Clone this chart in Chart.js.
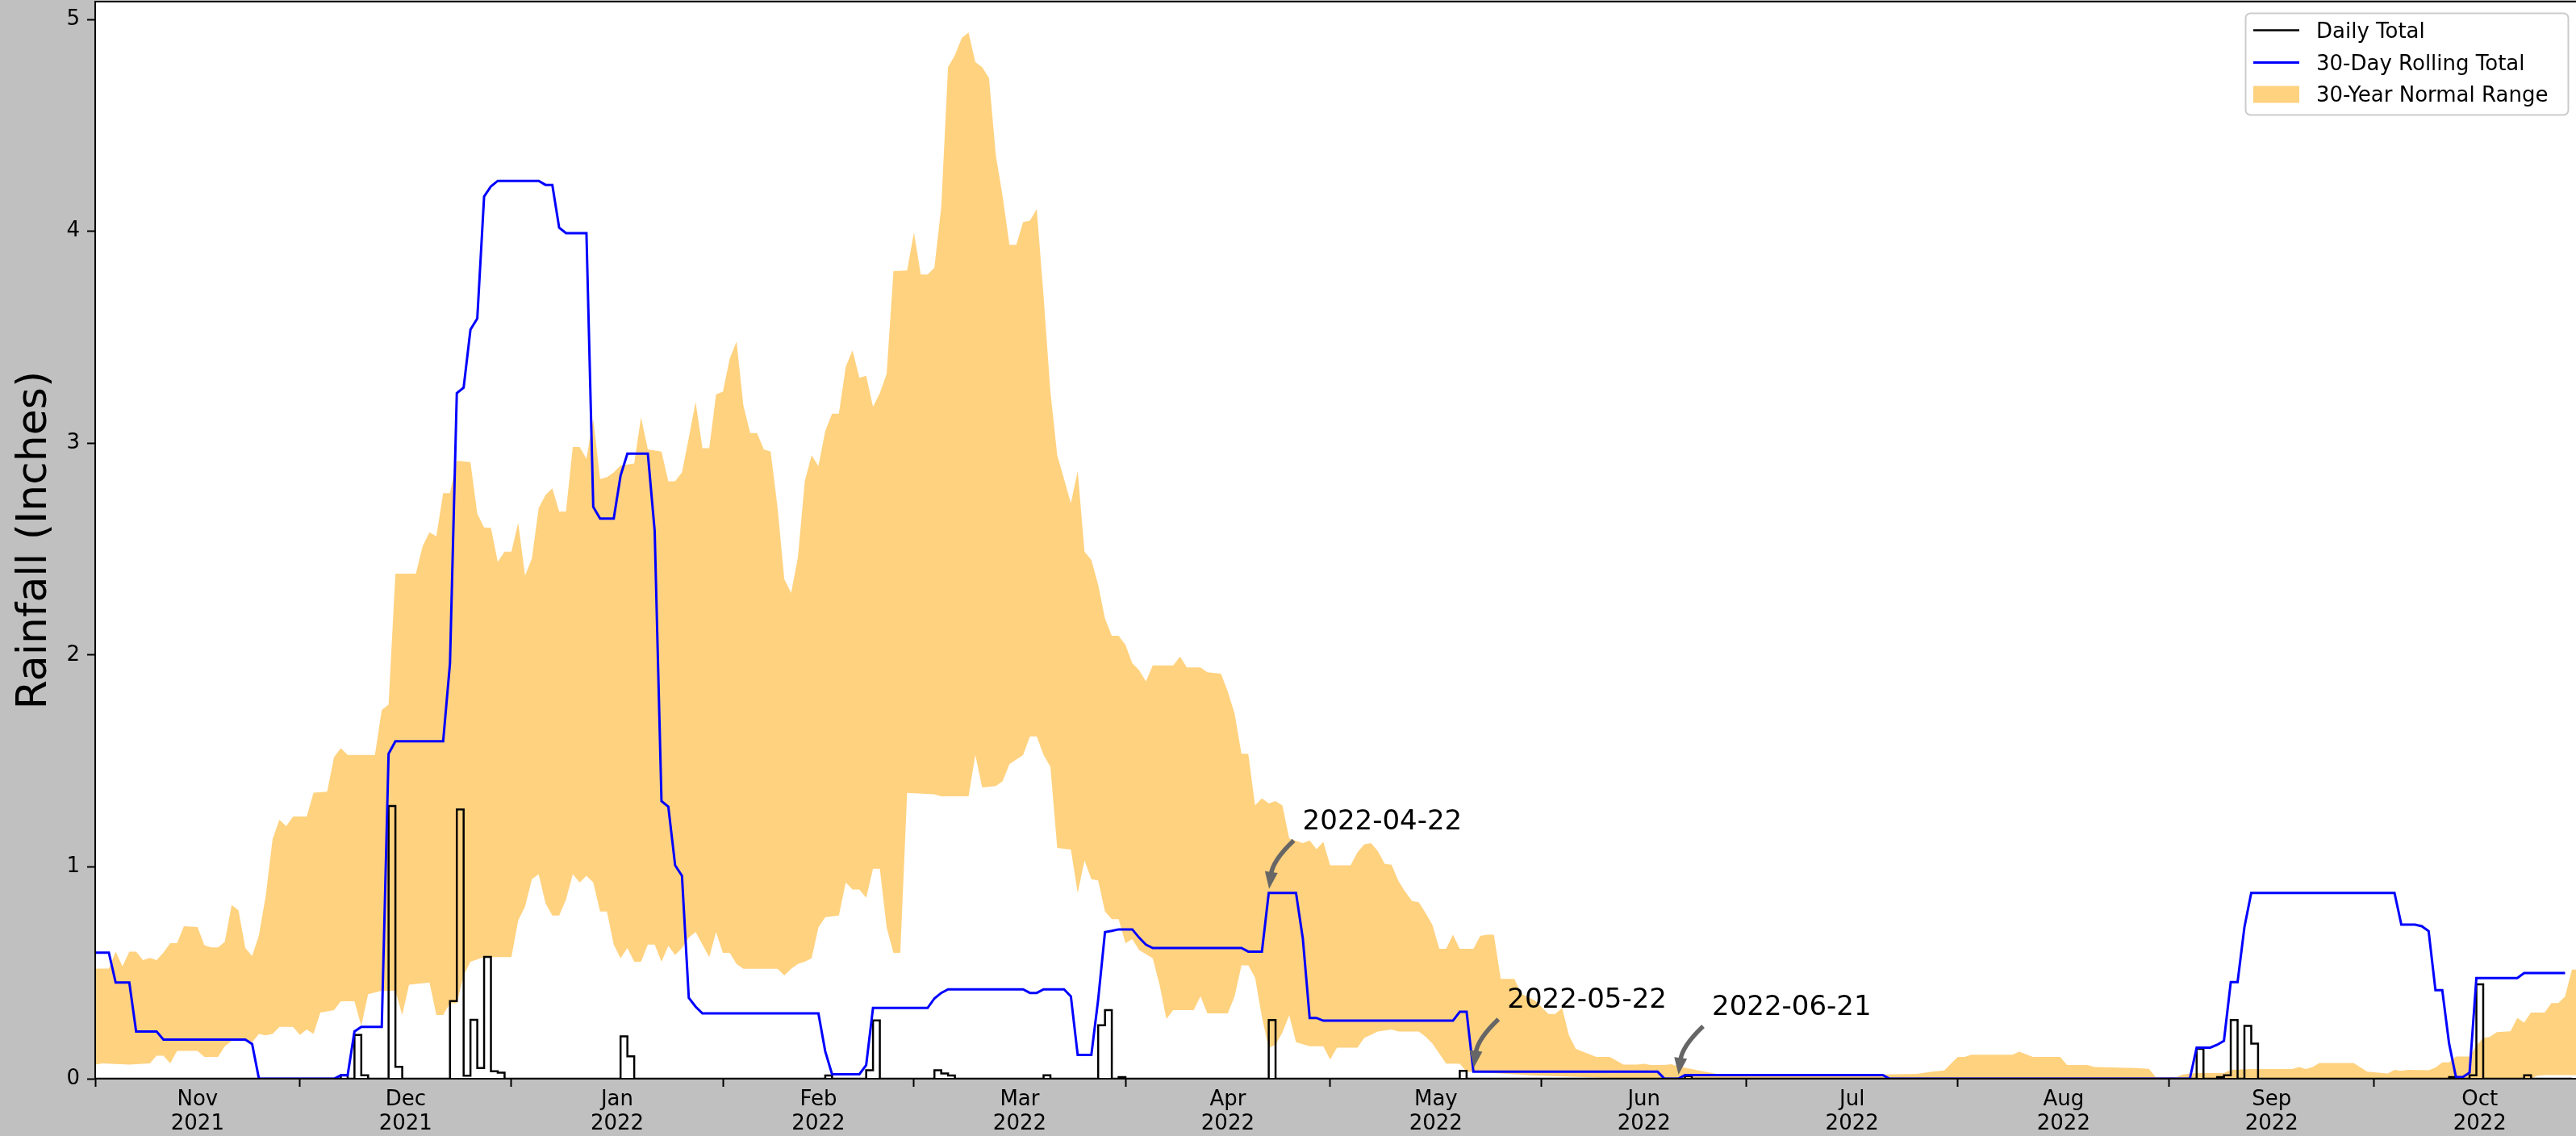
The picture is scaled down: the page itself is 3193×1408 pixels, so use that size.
<!DOCTYPE html>
<html>
<head>
<meta charset="utf-8">
<script src="https://cdn.jsdelivr.net/npm/chart.js@4/dist/chart.umd.min.js"></script>
<style>
html,body{margin:0;padding:0;background:#c0c0c0;}
#wrap{width:3193px;height:1408px;position:relative;}
</style>
</head>
<body>
<div id="wrap"><canvas id="c"></canvas></div>
<script>
// ---- x axis: days since 2021-11-01 ----
const monthStartDays = [0,30,61,92,120,151,181,212,242,273,304,334,365];
const monthNames = ['Nov','Dec','Jan','Feb','Mar','Apr','May','Jun','Jul','Aug','Sep','Oct'];
const monthYears = ['2021','2021','2022','2022','2022','2022','2022','2022','2022','2022','2022','2022'];
const xMin = 0, xMax = 363.6;
const yTicks = [0,1,2,3,4,5];
const yMax = 5.084;

// ---- 30-year normal range (lower / upper) ----
const normalUpperDays = [0,2,3,4,5,6,7,8,9,10,11,12,13,15,16,17,18,19,20,21,22,23,24,25,26,27,28,29,31,32,34,35,36,37,41,42,43,44,47,48,49,50,51,52,53,55,56,57,58,59,60,61,62,63,64,65,66,67,68,69,70,71,72,73,74,75,76,77,79,80,81,83,84,85,86,87,88,89,90,91,92,93,94,95,96,97,98,99,100,101,102,103,104,105,106,107,108,109,110,111,112,113,114,115,116,117,119,120,121,122,123,124,125,126,127,128,129,130,131,132,133,134,135,136,137,138,139,140,141,142,143,144,145,146,147,148,149,150,151,152,153,154,155,158,159,160,162,163,165,166,167,168,169,170,171,172,173,174,175,177,178,179,180,181,184,185,186,187,188,189,190,191,192,193,194,195,196,197,198,199,200,202,203,204,205,206,208,209,211,213,214,215,216,217,220,222,224,226,227,228,230,231,232,234,235,237,238,262,267,269,271,272,273,274,275,281,282,284,288,289,292,293,299,301,302,305,306,308,312,313,316,322,323,324,325,326,331,333,334,336,337,338,339,342,343,344,345,346,348,349,350,351,352,354,355,356,357,359,360,361,362,363,363.6];
const normalUpperVals = [0.52,0.52,0.60,0.53,0.60,0.60,0.56,0.57,0.56,0.595,0.64,0.64,0.72,0.716,0.63,0.62,0.62,0.646,0.82,0.795,0.617,0.579,0.677,0.864,1.131,1.222,1.192,1.238,1.238,1.35,1.355,1.518,1.56,1.528,1.528,1.74,1.766,2.384,2.384,2.514,2.579,2.56,2.764,2.764,2.917,2.91,2.667,2.602,2.6,2.439,2.488,2.488,2.624,2.374,2.455,2.693,2.755,2.787,2.677,2.677,2.982,2.982,2.927,3.113,2.83,2.839,2.862,2.894,2.904,3.122,2.97,2.96,2.82,2.82,2.862,3.025,3.194,2.976,2.976,3.23,3.243,3.399,3.48,3.178,3.048,3.048,2.97,2.96,2.699,2.358,2.293,2.462,2.82,2.943,2.891,3.057,3.139,3.139,3.36,3.438,3.308,3.318,3.171,3.236,3.327,3.812,3.815,3.994,3.796,3.796,3.828,4.115,4.775,4.831,4.912,4.938,4.798,4.775,4.723,4.359,4.164,3.936,3.936,4.043,4.05,4.105,3.692,3.243,2.943,2.83,2.716,2.868,2.488,2.449,2.332,2.172,2.091,2.091,2.048,1.961,1.928,1.876,1.951,1.951,1.993,1.941,1.941,1.918,1.912,1.827,1.723,1.534,1.534,1.29,1.323,1.3,1.31,1.29,1.134,1.112,1.124,1.083,1.118,1.007,1.007,1.068,1.106,1.112,1.074,1.014,1.01,0.934,0.883,0.839,0.833,0.782,0.725,0.613,0.613,0.68,0.613,0.613,0.674,0.68,0.68,0.471,0.471,0.401,0.369,0.306,0.306,0.334,0.205,0.141,0.103,0.103,0.067,0.067,0.07,0.065,0.065,0.069,0.058,0.046,0.039,0.027,0.02,0.02,0.023,0.032,0.039,0.071,0.103,0.103,0.113,0.113,0.128,0.103,0.103,0.065,0.065,0.055,0.05,0.047,0.008,0.008,0.02,0.027,0.027,0.042,0.046,0.046,0.055,0.046,0.055,0.074,0.074,0.033,0.03,0.025,0.042,0.037,0.042,0.04,0.052,0.077,0.077,0.105,0.105,0.156,0.192,0.198,0.22,0.224,0.287,0.265,0.312,0.312,0.357,0.357,0.388,0.515,0.515];
const normalLowerDays = [0,1,5,8,9,10,11,12,15,16,18,19,20,22,23,24,25,26,27,29,30,31,32,33,35,36,38,39,40,42,44,45,46,49,50,51,52,53,54,55,57,61,62,63,64,65,66,67,68,69,70,71,72,73,74,75,76,77,78,79,80,81,82,83,84,85,86,87,88,89,90,91,92,93,94,95,100,101,102,103,104,105,106,107,109,110,111,112,113,114,115,116,117,118,119,123,124,128,129,130,132,133,134,136,137,138,139,140,141,143,144,145,146,147,148,149,150,151,152,153,155,156,157,158,161,162,163,166,167,168,169,170,171,172,173,174,175,176,178,180,181,182,185,186,188,190,191,194,195,196,198,200,201,203,211,221,230,356,357,358,359,363.6];
const normalLowerVals = [0.067,0.072,0.067,0.072,0.109,0.109,0.072,0.131,0.131,0.103,0.103,0.153,0.179,0.18,0.172,0.211,0.205,0.211,0.245,0.245,0.207,0.232,0.211,0.312,0.324,0.366,0.366,0.249,0.399,0.415,0.415,0.301,0.444,0.454,0.301,0.301,0.356,0.356,0.487,0.552,0.574,0.574,0.747,0.812,0.942,0.965,0.828,0.77,0.77,0.845,0.965,0.926,0.958,0.926,0.789,0.789,0.633,0.568,0.617,0.552,0.552,0.633,0.633,0.552,0.627,0.584,0.617,0.666,0.692,0.633,0.574,0.692,0.594,0.594,0.542,0.519,0.519,0.487,0.519,0.542,0.552,0.568,0.714,0.763,0.77,0.926,0.893,0.893,0.854,0.991,0.991,0.714,0.594,0.594,1.349,1.342,1.333,1.333,1.528,1.375,1.381,1.404,1.485,1.528,1.616,1.616,1.528,1.473,1.089,1.082,0.877,1.03,0.942,0.936,0.789,0.753,0.753,0.64,0.659,0.607,0.568,0.444,0.282,0.324,0.324,0.389,0.308,0.308,0.389,0.535,0.535,0.477,0.291,0.145,0.161,0.217,0.30,0.172,0.153,0.153,0.09,0.147,0.147,0.192,0.223,0.232,0.223,0.223,0.198,0.166,0.071,0.07,0.033,0.03,0.015,0.005,0,0,0.002,0.014,0.017,0.017];

// ---- 30-day rolling total ----
const rollingDays = [0,2,3,5,6,9,10,22,23,24,35,36,37,38,39,42,43,44,51,52,53,54,55,56,57,58,59,65,66,67,68,69,72,73,74,76,77,78,81,82,83,84,85,86,87,88,89,106,107,108,112,113,114,122,123,124,125,136,137,138,139,142,143,144,146,147,148,149,150,152,153,154,155,168,169,171,172,176,177,178,179,180,199,200,201,202,229,230,232,233,262,263,307,308,310,311,312,313,314,315,316,337,338,340,341,342,343,344,345,346,347,348,349,355,356,362];
const rollingTotals = [0.595,0.595,0.454,0.454,0.223,0.223,0.185,0.185,0.164,0,0,0.016,0.016,0.223,0.245,0.245,1.534,1.593,1.593,1.961,3.236,3.262,3.536,3.588,4.164,4.212,4.238,4.238,4.219,4.219,4.017,3.991,3.991,2.699,2.644,2.644,2.846,2.95,2.95,2.585,1.31,1.284,1.007,0.958,0.382,0.34,0.308,0.308,0.129,0.021,0.021,0.064,0.334,0.334,0.379,0.405,0.422,0.422,0.405,0.405,0.422,0.422,0.389,0.112,0.112,0.373,0.692,0.698,0.705,0.705,0.666,0.633,0.617,0.617,0.6,0.6,0.877,0.877,0.661,0.287,0.287,0.274,0.274,0.316,0.316,0.033,0.033,0,0,0.017,0.017,0,0,0.147,0.147,0.16,0.179,0.456,0.456,0.715,0.877,0.877,0.727,0.727,0.72,0.697,0.418,0.418,0.166,0.008,0.008,0.029,0.475,0.475,0.499,0.499];

// ---- daily totals (days with rain; all other days are 0) ----
const dailyDays = [36,38,39,43,44,52,53,54,55,56,57,58,59,77,78,107,113,114,123,124,125,139,147,148,150,172,200,233,308,311,312,313,315,316,345,348,349,356];
const dailyTotals = [0.016,0.207,0.016,1.287,0.056,0.367,1.271,0.014,0.278,0.05,0.575,0.035,0.029,0.2,0.106,0.015,0.04,0.275,0.04,0.025,0.015,0.016,0.252,0.324,0.008,0.277,0.037,0.012,0.141,0.008,0.016,0.277,0.249,0.166,0.008,0.016,0.446,0.016];
const lastDay = 363;

// ---- annotations ----
const annotationLabels = ['2022-04-22','2022-05-22','2022-06-21'];
const annotationDays = [172, 202, 232];
const annotationValues = [0.877, 0.033, 0];

// ---- legend ----
const legendLabels = ['Daily Total','30-Day Rolling Total','30-Year Normal Range'];

// ---- build datasets ----
const pts = (xs, ys) => xs.map((x, i) => ({x: x, y: ys[i]}));
const dailyMap = {};
dailyDays.forEach((d, i) => { dailyMap[d] = dailyTotals[i]; });
const dailySeries = [];
for (let d = 0; d <= lastDay; d++) dailySeries.push({x: d, y: dailyMap[d] || 0});

const monthTickValues = monthStartDays.slice(0, 12);
const labelTickValues = monthNames.map((_, i) => (monthStartDays[i] + monthStartDays[i + 1]) / 2);
const allXTicks = [];
monthTickValues.forEach(v => allXTicks.push({value: v, kind: 'mark'}));
labelTickValues.forEach((v, i) => allXTicks.push({value: v, kind: 'label', idx: i}));
allXTicks.sort((a, b) => a.value - b.value);

const FONT = "'DejaVu Sans', 'Liberation Sans', sans-serif";
Chart.defaults.font.family = FONT;
Chart.defaults.color = '#000000';

const BAND = 'rgba(255,165,0,0.5)';
const BLUE = '#0000ff';
const BLACK = '#000000';

const framePlugin = {
  id: 'frame',
  beforeDraw(chart) {
    const {ctx, chartArea: a, width, height} = chart;
    ctx.save();
    ctx.fillStyle = '#c0c0c0';
    ctx.fillRect(0, 0, width, height);
    ctx.fillStyle = '#ffffff';
    ctx.fillRect(a.left, a.top, a.right - a.left, a.bottom - a.top);
    ctx.restore();
  },
  afterDraw(chart) {
    const {ctx, chartArea: a, scales} = chart;
    ctx.save();
    // top spine
    ctx.strokeStyle = '#000';
    ctx.lineWidth = 2;
    ctx.beginPath();
    ctx.moveTo(a.left - 1, a.top);
    ctx.lineTo(a.right, a.top);
    ctx.stroke();

    // annotations
    const xs = scales.x, ys = scales.y;
    ctx.font = '34px ' + FONT;
    ctx.textBaseline = 'alphabetic';
    ctx.textAlign = 'left';
    annotationLabels.forEach((lab, i) => {
      const px = xs.getPixelForValue(annotationDays[i]);
      const py = ys.getPixelForValue(annotationValues[i]);
      ctx.fillStyle = '#000';
      ctx.fillText(lab, px + 42, py - 79);
      const tail = {x: px + 31, y: py - 65};
      const tip = {x: px + 0.5, y: py - 5};
      const mx = (tail.x + tip.x) / 2, my = (tail.y + tip.y) / 2;
      const dx = tip.x - tail.x, dy = tip.y - tail.y;
      const L = Math.hypot(dx, dy);
      const nx = -dy / L, ny = dx / L;
      const ctrl = {x: mx + nx * 12, y: my + ny * 12};
      let hx = tip.x - ctrl.x, hy = tip.y - ctrl.y;
      const hl = Math.hypot(hx, hy); hx /= hl; hy /= hl;
      const headLen = 21, headHalf = 8;
      const base = {x: tip.x - hx * headLen, y: tip.y - hy * headLen};
      ctx.strokeStyle = '#666666';
      ctx.fillStyle = '#666666';
      ctx.lineWidth = 5.5;
      ctx.lineCap = 'butt';
      ctx.beginPath();
      ctx.moveTo(tail.x, tail.y);
      ctx.quadraticCurveTo(ctrl.x, ctrl.y, base.x + hx * 3, base.y + hy * 3);
      ctx.stroke();
      ctx.beginPath();
      ctx.moveTo(tip.x, tip.y);
      ctx.lineTo(base.x - hy * headHalf, base.y + hx * headHalf);
      ctx.lineTo(base.x + hy * headHalf, base.y - hx * headHalf);
      ctx.closePath();
      ctx.fill();
    });

    // legend
    const bx = 2783.5, by = 16.5, bw = 400, bh = 126, r = 6;
    ctx.beginPath();
    ctx.moveTo(bx + r, by);
    ctx.lineTo(bx + bw - r, by);
    ctx.arcTo(bx + bw, by, bx + bw, by + r, r);
    ctx.lineTo(bx + bw, by + bh - r);
    ctx.arcTo(bx + bw, by + bh, bx + bw - r, by + bh, r);
    ctx.lineTo(bx + r, by + bh);
    ctx.arcTo(bx, by + bh, bx, by + bh - r, r);
    ctx.lineTo(bx, by + r);
    ctx.arcTo(bx, by, bx + r, by, r);
    ctx.closePath();
    ctx.fillStyle = 'rgba(255,255,255,0.8)';
    ctx.fill();
    ctx.strokeStyle = '#cccccc';
    ctx.lineWidth = 2;
    ctx.stroke();

    const rows = [37.5, 77.5, 117];
    const sx0 = 2793, sx1 = 2850;
    ctx.lineCap = 'butt';
    ctx.strokeStyle = BLACK; ctx.lineWidth = 2.5;
    ctx.beginPath(); ctx.moveTo(sx0, rows[0]); ctx.lineTo(sx1, rows[0]); ctx.stroke();
    ctx.strokeStyle = BLUE; ctx.lineWidth = 3;
    ctx.beginPath(); ctx.moveTo(sx0, rows[1]); ctx.lineTo(sx1, rows[1]); ctx.stroke();
    ctx.fillStyle = BAND;
    ctx.fillRect(sx0, rows[2] - 10.5, sx1 - sx0, 21);
    ctx.fillStyle = '#000';
    ctx.font = '26px ' + FONT;
    legendLabels.forEach((t, i) => ctx.fillText(t, 2871, rows[i] + 9.3));
    ctx.restore();
  }
};

new Chart(document.getElementById('c'), {
  type: 'line',
  data: {
    datasets: [
      {
        label: '30-Day Rolling Total',
        data: pts(rollingDays, rollingTotals),
        borderColor: BLUE,
        borderWidth: 3,
        pointRadius: 0,
        tension: 0,
        fill: false
      },
      {
        label: 'Daily Total',
        data: dailySeries,
        borderColor: BLACK,
        borderWidth: 2.5,
        pointRadius: 0,
        stepped: 'before',
        fill: false
      },
      {
        label: '30-Year Normal Range',
        data: pts(normalUpperDays, normalUpperVals),
        borderWidth: 0,
        borderColor: 'rgba(0,0,0,0)',
        backgroundColor: BAND,
        pointRadius: 0,
        tension: 0,
        fill: '+1'
      },
      {
        label: 'normal-lower',
        data: pts(normalLowerDays, normalLowerVals),
        borderWidth: 0,
        borderColor: 'rgba(0,0,0,0)',
        pointRadius: 0,
        tension: 0,
        fill: false
      }
    ]
  },
  options: {
    responsive: true,
    maintainAspectRatio: false,
    devicePixelRatio: 1,
    animation: false,
    events: [],
    layout: {padding: {top: 2, left: 0, right: 0, bottom: 0}},
    plugins: {legend: {display: false}, tooltip: {enabled: false}},
    scales: {
      x: {
        type: 'linear',
        min: xMin,
        max: xMax,
        afterBuildTicks(scale) { scale.ticks = allXTicks.map(t => ({value: t.value})); },
        afterFit(scale) { scale.height = 71; scale.paddingLeft = 0; scale.paddingRight = 0; },
        grid: {
          display: true,
          drawOnChartArea: false,
          drawTicks: true,
          tickLength: 10,
          tickWidth: 2,
          tickColor: (ctx) => {
            const v = ctx.tick ? ctx.tick.value : null;
            return monthTickValues.includes(v) ? '#000' : 'rgba(0,0,0,0)';
          }
        },
        border: {display: true, color: '#000', width: 2, z: 1},
        ticks: {
          autoSkip: false,
          maxRotation: 0,
          minRotation: 0,
          padding: 1,
          color: '#000',
          font: {size: 26, lineHeight: 1.154},
          callback(value) {
            const i = labelTickValues.indexOf(value);
            return i >= 0 ? [monthNames[i], monthYears[i]] : '';
          }
        }
      },
      y: {
        type: 'linear',
        min: 0,
        max: yMax,
        afterBuildTicks(scale) { scale.ticks = yTicks.map(v => ({value: v})); },
        afterFit(scale) { scale.width = 118; scale.paddingTop = 0; scale.paddingBottom = 0; },
        grid: {display: true, drawOnChartArea: false, drawTicks: true, tickLength: 10, tickWidth: 2, tickColor: '#000'},
        border: {display: true, color: '#000', width: 2, z: 1},
        ticks: {padding: 9, color: '#000', font: {size: 26}, callback: v => String(v)},
        title: {display: true, text: 'Rainfall (Inches)', color: '#000', font: {size: 52}, padding: {top: 12, bottom: 0}}
      }
    }
  },
  plugins: [framePlugin]
});
</script>
</body>
</html>
